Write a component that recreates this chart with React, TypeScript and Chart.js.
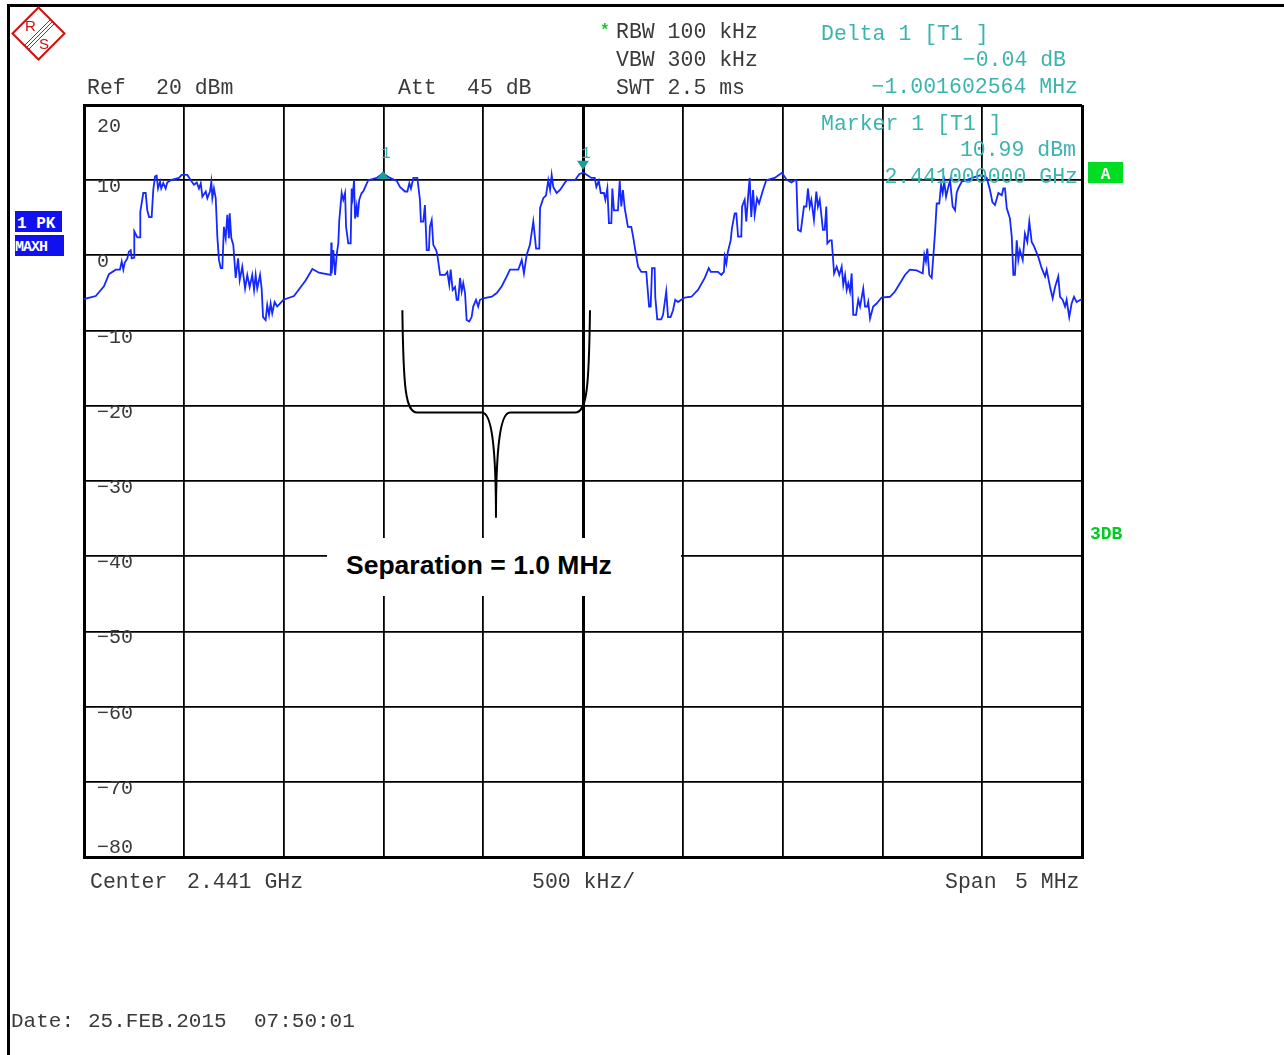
import React, { useEffect, useRef } from "react";
import { Chart, registerables } from "chart.js";

Chart.register(...registerables);

// ---- Trace data: frequency offset from centre (kHz) and level (dBm) ----
const freqOffsetKHz: number[] = [
  -2500, -2441, -2400, -2375, -2341, -2320, -2311, -2303, -2296, -2283,
  -2275, -2266, -2261, -2249, -2248, -2233, -2219, -2218, -2203, -2191,
  -2183, -2174, -2161, -2153, -2144, -2136, -2129, -2119, -2113, -2103,
  -2091, -2083, -2066, -2024, -2011, -1982, -1965, -1949, -1935, -1924,
  -1915, -1907, -1890, -1882, -1869, -1862, -1857, -1849, -1840, -1832,
  -1824, -1815, -1807, -1799, -1790, -1782, -1774, -1770, -1762, -1752,
  -1740, -1728, -1720, -1707, -1693, -1682, -1670, -1657, -1648, -1640,
  -1632, -1618, -1610, -1603, -1590, -1582, -1573, -1565, -1557, -1545,
  -1532, -1501, -1448, -1414, -1389, -1356, -1323, -1264, -1261, -1259,
  -1251, -1242, -1234, -1226, -1221, -1209, -1201, -1192, -1187, -1176,
  -1164, -1159, -1154, -1147, -1142, -1134, -1129, -1121, -1109, -1101,
  -1076, -1034, -1002, -967, -933, -917, -892, -880, -870, -862,
  -850, -830, -817, -812, -800, -792, -783, -772, -767, -758,
  -750, -736, -730, -716, -691, -680, -670, -663, -653, -641,
  -633, -625, -616, -608, -600, -591, -583, -570, -558, -550,
  -536, -525, -516, -500, -457, -432, -407, -382, -366, -324,
  -307, -296, -282, -266, -249, -235, -219, -215, -199, -185,
  -174, -165, -157, -149, -132, -115, -82, -40, -19, 0,
  9, 42, 59, 67, 79, 89, 105, 112, 122, 130,
  142, 147, 155, 175, 184, 192, 200, 209, 225, 242,
  251, 262, 276, 292, 317, 331, 339, 346, 359, 362,
  372, 392, 401, 417, 426, 439, 451, 462, 476, 492,
  510, 543, 576, 610, 630, 640, 676, 693, 706, 710,
  718, 726, 740, 746, 760, 768, 777, 793, 797, 810,
  818, 827, 835, 843, 852, 860, 872, 882, 902, 918,
  960, 997, 1019, 1044, 1061, 1069, 1077, 1091, 1107, 1119,
  1127, 1136, 1144, 1157, 1169, 1177, 1186, 1202, 1211, 1219,
  1224, 1237, 1246, 1258, 1271, 1284, 1296, 1304, 1313, 1321,
  1329, 1338, 1346, 1354, 1368, 1379, 1388, 1404, 1413, 1424,
  1429, 1438, 1454, 1471, 1496, 1538, 1563, 1588, 1613, 1638,
  1672, 1702, 1710, 1718, 1725, 1735, 1747, 1755, 1764, 1772,
  1785, 1794, 1802, 1810, 1819, 1830, 1839, 1852, 1864, 1872,
  1880, 1897, 1922, 1972, 1997, 2023, 2039, 2051, 2064, 2081,
  2098, 2106, 2114, 2123, 2139, 2148, 2156, 2164, 2173, 2181,
  2189, 2203, 2214, 2226, 2236, 2248, 2260, 2281, 2298, 2315,
  2323, 2340, 2353, 2365, 2381, 2390, 2403, 2415, 2423, 2436,
  2448, 2460, 2473, 2493, 2500,
];

const levelDbm: number[] = [
  -5.8, -5.4, -4.1, -2.5, -1.9, -1.9, -0.8, -1.9, -1.0, -0.4,
  0.5, 0.7, -0.4, -0.3, 3.2, 2.4, 2.4, 5.8, 8.3, 8.3,
  6.0, 5.1, 5.1, 8.7, 10.5, 10.6, 8.9, 9.8, 8.9, 9.6,
  8.9, 9.7, 10.0, 10.3, 10.7, 10.7, 10.0, 9.4, 9.7, 8.9,
  9.6, 7.8, 8.5, 7.6, 8.5, 9.8, 7.6, 8.9, 7.6, 2.5,
  -0.6, -1.7, -1.7, 3.8, 2.3, 5.4, 2.3, 5.6, 2.3, 1.4,
  -3.0, -0.4, -3.3, -1.5, -4.4, -2.6, -4.2, -2.6, -4.6, -2.6,
  -4.4, -2.6, -4.4, -8.2, -8.6, -6.6, -7.9, -6.4, -7.7, -6.2,
  -6.8, -5.9, -5.4, -4.2, -3.3, -1.8, -2.3, -2.6, 1.7, -2.4,
  0.7, -2.6, 0.1, 1.6, 4.7, 8.3, 7.4, 8.3, 3.8, 1.6,
  1.6, 8.9, 7.8, 10.0, 4.9, 6.5, 5.1, 7.4, 8.3, 8.5,
  10.0, 10.3, 10.9, 10.3, 9.9, 9.1, 8.5, 8.5, 9.6, 8.9,
  10.3, 10.3, 7.4, 4.5, 4.5, 6.7, 0.7, 0.7, 3.8, 4.7,
  1.4, 0.7, 0.1, -2.6, -2.6, -2.2, -3.9, -1.9, -4.6, -4.2,
  -5.9, -5.9, -3.0, -4.8, -3.7, -5.0, -8.6, -8.8, -8.2, -6.8,
  -5.9, -6.8, -5.9, -5.7, -5.5, -5.0, -4.1, -2.8, -1.9, -1.9,
  -0.6, -2.4, 0.1, 1.4, 4.5, 0.9, 0.9, 6.3, 7.6, 8.0,
  10.0, 8.7, 10.7, 9.1, 8.3, 8.7, 10.0, 10.0, 10.8, 11.0,
  10.9, 10.3, 10.3, 9.1, 9.9, 8.3, 8.3, 7.4, 8.9, 4.3,
  4.3, 8.9, 6.0, 6.0, 9.9, 6.5, 8.7, 6.3, 3.8, 3.8,
  2.5, 0.7, -1.5, -2.2, -2.2, -6.8, -6.8, -1.7, -1.7, -5.5,
  -8.5, -8.5, -7.9, -4.8, -8.2, -8.2, -7.3, -5.9, -6.2, -5.9,
  -5.6, -5.5, -4.6, -3.0, -1.7, -2.2, -2.2, -2.6, -2.2, -0.2,
  -1.1, 0.5, 2.0, 3.6, 5.6, 5.6, 2.5, 2.5, 6.5, 7.4,
  4.5, 7.8, 10.3, 5.1, 8.7, 5.4, 7.6, 6.9, 8.7, 10.0,
  10.3, 11.0, 10.1, 9.7, 10.0, 10.0, 3.4, 3.2, 6.5, 6.5,
  8.9, 6.5, 7.4, 4.7, 8.5, 6.5, 7.4, 3.4, 3.4, 6.5,
  1.6, 2.0, 2.0, -2.4, -1.5, -2.6, -1.5, -3.9, -2.6, -4.6,
  -3.7, -4.8, -2.4, -7.9, -7.9, -5.9, -6.8, -4.4, -6.8, -6.8,
  -6.2, -8.4, -6.8, -6.4, -5.6, -5.5, -4.8, -3.7, -2.6, -1.9,
  -2.0, -2.4, 0.1, -0.8, 0.9, -2.6, -3.0, -0.2, 3.2, 6.9,
  6.9, 9.4, 8.3, 9.8, 7.8, 9.1, 10.0, 6.5, 6.0, 8.3,
  8.9, 9.8, 10.0, 10.5, 10.7, 10.3, 8.7, 7.1, 6.7, 8.3,
  8.0, 8.9, 8.9, 6.3, 4.9, 2.5, -2.6, -2.6, 2.0, -0.6,
  0.7, -0.6, 2.9, 1.8, 4.5, 1.8, 1.2, -0.2, -1.7, -2.8,
  -1.9, -4.2, -5.7, -4.2, -2.8, -5.5, -5.9, -6.8, -5.9, -8.2,
  -6.4, -5.5, -6.2, -5.9, -5.8,
];

// ---- Axes ----
const spanKHz: number[] = [-2500, 2500];
const divisionKHz = 500;
const levelRangeDbm: number[] = [-80, 20];
const divisionDb = 10;
const yTickValues: number[] = [20, 10, 0, -10, -20, -30, -40, -50, -60, -70, -80];
const yTickLabels: string[] = ["20", "10", "0", "−10", "−20", "−30", "−40", "−50", "−60", "−70", "−80"];

// ---- Markers (delta marker and reference marker) ----
const markerFreqKHz: number[] = [-1002, 0];
const markerLevelDbm: number[] = [10.95, 10.99];
const markerKinds: string[] = ["delta", "ref"];
const markerLabels: string[] = ["1", "1"];

// ---- Brace annotation (data units) ----
const braceLeftKHz = -905;
const braceTipKHz = -436;
const braceRightKHz = 35;
const braceTopDbm = -7.3;
const braceBarDbm = -20.9;
const braceTipDbm = -34.9;

const MONO = "'Liberation Mono', 'DejaVu Sans Mono', monospace";
const TEAL = "#3cb4ae";
const GREY = "#3a3a3a";

const tickLabelPlugin = {
  id: "rsTickLabels",
  afterDraw(chart: any) {
    const { ctx, chartArea } = chart;
    const y = chart.scales.y;
    ctx.save();
    ctx.font = `20px ${MONO}`;
    ctx.fillStyle = GREY;
    ctx.textAlign = "left";
    ctx.textBaseline = "alphabetic";
    y.ticks.forEach((t: any) => {
      const p = y.getPixelForValue(t.value);
      let c = p + 5.5;
      if (t.value === y.max) c = p + 20.5;
      if (t.value === y.min) c = p - 11;
      const idx = yTickValues.indexOf(t.value);
      const lab = idx >= 0 ? yTickLabels[idx] : String(t.value);
      ctx.fillText(lab, chartArea.left + 13, c + 6.5);
    });
    ctx.restore();
  },
};

const bracePlugin = {
  id: "rsBrace",
  afterDatasetsDraw(chart: any) {
    const { ctx } = chart;
    const x = chart.scales.x;
    const y = chart.scales.y;
    const xL = x.getPixelForValue(braceLeftKHz);
    const xR = x.getPixelForValue(braceRightKHz);
    const xT = x.getPixelForValue(braceTipKHz);
    const yTop = y.getPixelForValue(braceTopDbm);
    const yBar = y.getPixelForValue(braceBarDbm);
    const yTip = y.getPixelForValue(braceTipDbm);
    ctx.save();
    ctx.strokeStyle = "#000";
    ctx.lineWidth = 2;
    ctx.beginPath();
    ctx.moveTo(xL, yTop);
    ctx.bezierCurveTo(xL + 1, yBar - 25, xL + 3, yBar, xL + 15, yBar);
    ctx.lineTo(xT - 14, yBar);
    ctx.bezierCurveTo(xT - 5, yBar, xT, yBar + 30, xT, yTip);
    ctx.bezierCurveTo(xT, yBar + 30, xT + 5, yBar, xT + 14, yBar);
    ctx.lineTo(xR - 15, yBar);
    ctx.bezierCurveTo(xR - 3, yBar, xR - 1, yBar - 25, xR, yTop);
    ctx.stroke();
    ctx.restore();
  },
};

const markerPlugin = {
  id: "rsMarkers",
  afterDatasetsDraw(chart: any) {
    const { ctx } = chart;
    const x = chart.scales.x;
    const y = chart.scales.y;
    markerFreqKHz.forEach((f, i) => {
      const px = x.getPixelForValue(f);
      const py = y.getPixelForValue(markerLevelDbm[i]);
      ctx.save();
      ctx.fillStyle = "#17a09b";
      ctx.beginPath();
      if (markerKinds[i] === "ref") {
        ctx.moveTo(px - 6, py - 12);
        ctx.lineTo(px + 6, py - 12);
        ctx.lineTo(px, py - 3);
      } else {
        ctx.moveTo(px, py - 2);
        ctx.lineTo(px + 6, py + 6);
        ctx.lineTo(px - 6, py + 6);
      }
      ctx.closePath();
      ctx.fill();
      ctx.font = `16px ${MONO}`;
      ctx.fillStyle = TEAL;
      ctx.textAlign = "center";
      ctx.textBaseline = "alphabetic";
      ctx.fillText(markerLabels[i], px + 3, py - 15);
      ctx.restore();
    });
  },
};

type TxtProps = {
  x: number;
  cy: number;
  text: string;
  color?: string;
  size?: number;
  align?: "left" | "right";
  weight?: string | number;
  family?: string;
};

function Txt({ x, cy, text, color = GREY, size = 21.5, align = "left", weight = "normal", family = MONO }: TxtProps) {
  const style: React.CSSProperties = {
    position: "absolute",
    top: cy - 0.46 * size,
    fontSize: size,
    lineHeight: `${size}px`,
    whiteSpace: "pre",
    color,
    fontWeight: weight as any,
    fontFamily: family,
  };
  if (align === "left") style.left = x;
  else style.right = 1284 - x;
  return <div style={style}>{text}</div>;
}

export default function App() {
  const canvasRef = useRef<HTMLCanvasElement | null>(null);

  useEffect(() => {
    document.body.style.margin = "0";
    const canvas = canvasRef.current;
    if (!canvas) return;
    const n = Math.min(freqOffsetKHz.length, levelDbm.length);
    const points = [];
    for (let i = 0; i < n; i++) points.push({ x: freqOffsetKHz[i], y: levelDbm[i] });

    const gridWidthX = (c: any) => {
      const v = c.tick ? c.tick.value : 0;
      if (v === spanKHz[0] || v === spanKHz[1]) return 3;
      if (v === 0) return 3;
      return 1.8;
    };
    const gridWidthY = (c: any) => {
      const v = c.tick ? c.tick.value : 0;
      if (v === levelRangeDbm[0] || v === levelRangeDbm[1]) return 3;
      return 1.8;
    };

    const chart = new Chart(canvas, {
      type: "line",
      data: {
        datasets: [
          {
            label: "1 PK MAXH",
            data: points,
            borderColor: "#1428ff",
            borderWidth: 1.8,
            pointRadius: 0,
            tension: 0,
            fill: false,
          },
        ],
      },
      options: {
        responsive: false,
        animation: false,
        layout: { padding: { left: 84, top: 105, right: 202, bottom: 198 } },
        plugins: {
          legend: { display: false },
          tooltip: { enabled: false },
          title: { display: false },
        },
        scales: {
          x: {
            type: "linear",
            min: spanKHz[0],
            max: spanKHz[1],
            ticks: { display: false, stepSize: divisionKHz },
            grid: { color: "#000", lineWidth: gridWidthX as any, drawTicks: false, tickLength: 0 },
            border: { display: true, color: "#000", width: 3 },
          },
          y: {
            type: "linear",
            min: levelRangeDbm[0],
            max: levelRangeDbm[1],
            ticks: { display: false, stepSize: divisionDb },
            grid: { color: "#000", lineWidth: gridWidthY as any, drawTicks: false, tickLength: 0 },
            border: { display: true, color: "#000", width: 3 },
          },
        },
      },
      plugins: [bracePlugin, markerPlugin, tickLabelPlugin],
    });
    return () => chart.destroy();
  }, []);

  return (
    <div
      style={{
        position: "relative",
        width: 1284,
        height: 1055,
        overflow: "hidden",
        background: "#fff",
        fontFamily: MONO,
      }}
    >
      <canvas
        ref={canvasRef}
        width={1284}
        height={1055}
        style={{ position: "absolute", left: 0, top: 0, width: 1284, height: 1055 }}
      />

      {/* page frame */}
      <div style={{ position: "absolute", left: 7, top: 4, width: 3, height: 1055, background: "#000" }} />
      <div style={{ position: "absolute", left: 7, top: 4, width: 1284, height: 3, background: "#000" }} />

      {/* R&S logo */}
      <svg width={60} height={60} style={{ position: "absolute", left: 9, top: 4 }} viewBox="0 0 60 60">
        <polygon points="29.5,3.5 55.5,29.5 29.5,55.5 3.5,29.5" fill="none" stroke="#cc1111" strokeWidth={2} />
        <line x1={41} y1={16} x2={16} y2={41} stroke="#cc1111" strokeWidth={1} />
        <line x1={43} y1={18} x2={18} y2={43} stroke="#cc1111" strokeWidth={1} />
        <line x1={45} y1={20} x2={20} y2={45} stroke="#cc1111" strokeWidth={1} />
        <text x={16} y={27} fill="#cc1111" fontSize={15} fontFamily="'Liberation Sans', Arial, sans-serif">R</text>
        <text x={30} y={45} fill="#cc1111" fontSize={15} fontFamily="'Liberation Sans', Arial, sans-serif">S</text>
      </svg>

      {/* header: instrument settings */}
      <Txt x={600} cy={30} text="*" color="#11cc22" size={16} weight="bold" />
      <Txt x={616} cy={31.5} text="RBW 100 kHz" />
      <Txt x={616} cy={60} text="VBW 300 kHz" />
      <Txt x={616} cy={87.5} text="SWT 2.5 ms" />
      <Txt x={87} cy={87.5} text="Ref" />
      <Txt x={156} cy={87.5} text="20 dBm" />
      <Txt x={398} cy={87.5} text="Att" />
      <Txt x={467} cy={87.5} text="45 dB" />

      {/* marker readouts */}
      <Txt x={821} cy={33.5} text="Delta 1 [T1 ]" color={TEAL} />
      <Txt x={1066} cy={60} text="−0.04 dB" color={TEAL} align="right" />
      <Txt x={1078} cy={87} text="−1.001602564 MHz" color={TEAL} align="right" />
      <Txt x={821} cy={123.5} text="Marker 1 [T1 ]" color={TEAL} />
      <Txt x={1076} cy={150} text="10.99 dBm" color={TEAL} align="right" />
      <Txt x={1078} cy={177} text="2.441000000 GHz" color={TEAL} align="right" />

      {/* trace labels on the left */}
      <div
        style={{
          position: "absolute",
          left: 15,
          top: 211,
          width: 47,
          height: 21,
          background: "#1010f0",
          color: "#fff",
          fontFamily: MONO,
          fontWeight: "bold",
          fontSize: 16,
          lineHeight: "27px",
          overflow: "hidden",
          whiteSpace: "pre",
          paddingLeft: 2,
          boxSizing: "border-box",
        }}
      >
        1 PK
      </div>
      <div
        style={{
          position: "absolute",
          left: 15,
          top: 235,
          width: 49,
          height: 21,
          background: "#1010f0",
          color: "#fff",
          fontFamily: MONO,
          fontWeight: "bold",
          fontSize: 15,
          lineHeight: "25px",
          overflow: "hidden",
          whiteSpace: "pre",
          letterSpacing: -1,
          boxSizing: "border-box",
        }}
      >
        MAXH
      </div>

      {/* right side indicators */}
      <div
        style={{
          position: "absolute",
          left: 1088,
          top: 162,
          width: 35,
          height: 21,
          background: "#00dd22",
          color: "#fff",
          fontFamily: MONO,
          fontWeight: "bold",
          fontSize: 16,
          lineHeight: "26px",
          textAlign: "center",
          overflow: "hidden",
        }}
      >
        A
      </div>
      <Txt x={1090} cy={533} text="3DB" color="#00cc22" size={18} weight="bold" />

      {/* annotation box */}
      <div
        style={{
          position: "absolute",
          left: 327,
          top: 538,
          width: 354,
          height: 58,
          background: "#fff",
          color: "#000",
          fontFamily: "'Liberation Sans', Arial, sans-serif",
          fontWeight: "bold",
          fontSize: 26.5,
          lineHeight: "54px",
          textAlign: "left",
          paddingLeft: 19,
          boxSizing: "border-box",
          whiteSpace: "pre",
        }}
      >
        Separation = 1.0 MHz
      </div>

      {/* footer */}
      <Txt x={90} cy={882} text="Center" />
      <Txt x={187} cy={882} text="2.441 GHz" />
      <Txt x={532} cy={882} text="500 kHz/" />
      <Txt x={945} cy={882} text="Span" />
      <Txt x={1015} cy={882} text="5 MHz" />
      <Txt x={11} cy={1021} text="Date:" size={21} />
      <Txt x={88} cy={1021} text="25.FEB.2015" size={21} />
      <Txt x={254} cy={1021} text="07:50:01" size={21} />
    </div>
  );
}
